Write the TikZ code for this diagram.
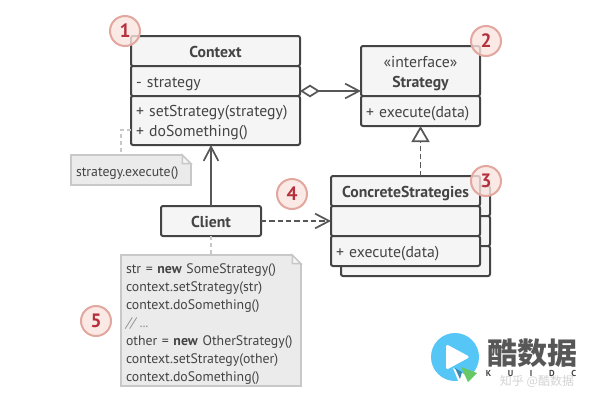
\documentclass[tikz,border=0pt]{standalone}
\usepackage{fontspec}
\setmainfont{PT Sans}
\newfontfamily\cjkfont{Noto Sans CJK SC}
\usepackage{xcolor}
\usetikzlibrary{arrows.meta, positioning, calc}
\definecolor{inkdark}{HTML}{444444}
\definecolor{boxfill}{HTML}{F5F5F5}
\definecolor{notefill}{HTML}{EBEBEB}
\definecolor{noteline}{HTML}{C8C8C8}
\definecolor{badgefill}{HTML}{F9E3DF}
\definecolor{badgeline}{HTML}{E2A79E}
\definecolor{badgetext}{HTML}{B5303C}
\definecolor{logoblue}{HTML}{55C6F5}
\tikzset{
    classrow/.style={draw=inkdark, fill=boxfill, line width=1.5pt, rounded corners=1.5pt,
        outer sep=0pt, inner xsep=3.75pt, inner ysep=0pt, text=inkdark, align=center,
        font=\fontsize{11.8}{15}\selectfont, minimum height=22.5pt,
        text height=11pt, text depth=1.5pt},
    leftrow/.style={classrow, align=left},
    tworows/.style={text depth=16.5pt},
    notebox/.style={draw=noteline, fill=notefill, line width=1.5pt, outer sep=0pt,
        inner xsep=3.75pt, inner ysep=0pt, text=inkdark, align=left,
        font=\fontsize{10.35}{13.5}\selectfont, text height=10.5pt, text depth=0.5pt},
    badge/.style={circle, draw=badgeline, fill=badgefill, fill opacity=0.8, text opacity=1,
        line width=1.5pt, minimum size=22.5pt, inner sep=0pt, text=badgetext,
        font=\fontsize{14.5}{15}\selectfont\bfseries},
    solidlink/.style={draw=inkdark!90, line width=1.3pt},
    dashlink/.style={draw=inkdark!90, line width=1.3pt, dash pattern=on 4pt off 2.25pt},
    notelink/.style={draw=noteline, line width=1.5pt, dash pattern=on 3pt off 2.25pt},
    openbarb/.style={-{Straight Barb[length=10.5pt, width=11pt, line width=1.3pt]}},
}
\newcommand{\foldnote}[1]{%
    \fill[white] ($(#1.north east)+(-7pt,0.9pt)$) -- ($(#1.north east)+(0.9pt,0.9pt)$) -- ($(#1.north east)+(0.9pt,-7pt)$) -- cycle;
    \draw[noteline, line width=1.2pt, fill=white!50!notefill] ($(#1.north east)+(-6.5pt,0)$) -- ($(#1.north east)+(0,-6.5pt)$) -- ($(#1.north east)+(-6.5pt,-6.5pt)$) -- cycle;
}
\begin{document}
\begin{tikzpicture}[x=0.75pt, y=-0.75pt, node distance=0pt]
        \useasboundingbox (0,0) rectangle (599,404);

        % context class
        \node[classrow, minimum width=126.75pt] (contexthead) at (215.5,51) {\bfseries Context};
        \node[leftrow, minimum width=126.75pt, text width=119.25pt, below=of contexthead] (contextattr) {- strategy};
        \node[leftrow, tworows, minimum width=126.75pt, text width=119.25pt, minimum height=36.75pt, below=of contextattr] (contextops) {+ setStrategy(strategy)\\+ doSomething()};

        % strategy interface
        \node[classrow, tworows, minimum width=89.25pt, text width=81.75pt, minimum height=37.5pt] (strategyhead) at (420.5,71) {«interface»\\\bfseries Strategy};
        \node[leftrow, minimum width=89.25pt, text width=81.75pt, below=of strategyhead] (strategyops) {+ execute(data)};

        % stacked concrete classes
        \node[classrow, minimum width=111.75pt] (backhead) at (415.5,201) {};
        \node[classrow, minimum width=111.75pt, below=of backhead] (backattr) {};
        \node[classrow, minimum width=111.75pt, below=of backattr] (backops) {};
        \node[classrow, minimum width=111.75pt] (concretehead) at (405.5,191) {\bfseries ConcreteStrategies};
        \node[classrow, minimum width=111.75pt, below=of concretehead] (concreteattr) {};
        \node[leftrow, minimum width=111.75pt, text width=104.25pt, below=of concreteattr] (concreteops) {+ execute(data)};

        % client
        \node[classrow, minimum width=75pt] (client) at (211,221) {\bfseries Client};

        % notes
        \node[notebox, minimum width=90pt, text width=82.5pt, minimum height=22.5pt] (execnote) at (131,170) {strategy.execute()};
        \foldnote{execnote}
        \node[notebox, text depth=81.5pt, minimum width=135pt, text width=127.5pt, minimum height=98.25pt] (clientnote) at (211,320.5) {str = \textbf{new} SomeStrategy()\\context.setStrategy(str)\\context.doSomething()\\\textcolor{inkdark!60}{\itshape // ...}\\other = \textbf{new} OtherStrategy()\\context.setStrategy(other)\\context.doSomething()};
        \foldnote{clientnote}

        % connectors
        \draw[solidlink, openbarb] (client.north) -- (client.north |- contextops.south);
        \draw[solidlink, {Diamond[open, length=15pt, width=9.5pt, line width=1.3pt]}-{Straight Barb[length=10.5pt, width=11pt, line width=1.3pt]}]
            ([yshift=-7.5pt]contextattr.east) -- ([yshift=-15pt]strategyhead.west);
        \draw[dashlink, openbarb] (client.east) -- (concreteattr.west);
        \draw[dashlink, -{Triangle[open, length=12pt, width=13.5pt, line width=1.3pt]}]
            (concretehead.north -| strategyops.south) -- (strategyops.south);
        \draw[notelink] ([yshift=-6.75pt]contextops.west) -| ([xshift=-7.5pt]execnote.north);
        \draw[notelink] (client.south) -- (clientnote.north);

        % numbered badges
        \node[badge] (badgeone) at (125,31) {1};
        \node[badge] (badgetwo) at (486,41) {2};
        \node[badge] (badgethree) at (486,181) {3};
        \node[badge] (badgefour) at (292,194) {4};
        \node[badge] (badgefive) at (96,321) {5};

        % watermark
        \fill[logoblue] (455,357) circle (24);
        \fill[white, rounded corners=2pt] (446,344) -- (470,357) -- (446,370) -- cycle;
        \fill[white] (453,368) -- (478,382) -- (459,383) -- cycle;
        \fill[logoblue!70!black] (455,368) -- (462,372) -- (460,379) -- cycle;
        \fill[green!65!black!60] (461,367) -- (477,373) -- (468,382) -- cycle;
        \node[inner sep=0pt, text=inkdark!90, font=\cjkfont\fontsize{22.5}{24}\selectfont\bfseries] (logotext) at (532,353) {酷数据};
        \node[inner sep=0pt, text=gray!35, font=\cjkfont\fontsize{9}{10}\selectfont] (logosite) at (537,381) {知乎 @酷数据};
        \node[inner sep=0pt, text=inkdark, font=\fontsize{6.5}{7}\selectfont\bfseries] (logosub) at (531,373) {K\hspace{12.5pt}U\hspace{12.5pt}I\hspace{12.5pt}D\hspace{12.5pt}C};
    \end{tikzpicture}
\end{document}
